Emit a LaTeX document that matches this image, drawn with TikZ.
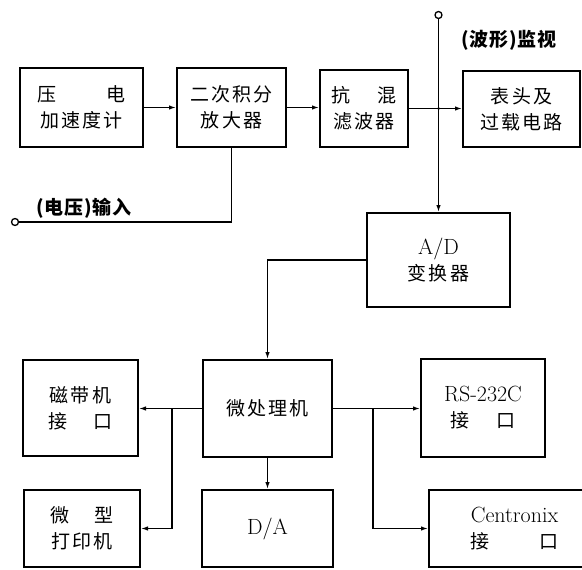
\documentclass[tikz,border=0pt]{standalone}
\usepackage{fontspec}
\usetikzlibrary{arrows.meta}
\newfontfamily\cjk[LetterSpace=12]{Noto Sans CJK SC}
\newfontfamily\cjklab[LetterSpace=4]{Noto Sans CJK SC}
\newcommand\latfont{\rmfamily\addfontfeature{LetterSpace=10}\fontsize{22}{27}\selectfont}
\newcommand\spreadtwo[3]{\makebox[#1]{#2\hfill#3}}
\begin{document}
\begin{tikzpicture}[x=1pt,y=-1pt,
  box/.style={draw, line width=2pt, inner sep=0pt, align=center,
    font=\cjk\fontsize{19}{26}\selectfont},
  conn/.style={line width=1.3pt},
  arr/.style={conn, -{Latex[length=7pt,width=4.5pt]}},
  term/.style={circle, draw, line width=1.3pt, minimum size=7pt, inner sep=0pt},
  lab/.style={font=\cjklab\bfseries\fontsize{19}{22}\selectfont, inner sep=0pt},
  dot/.style={circle, fill, minimum size=3pt, inner sep=0pt}
]
\useasboundingbox (0,0) rectangle (582,570);

% top row
\node[box, minimum width=123pt, minimum height=79pt] (acc) at (81.5,107.5)
  {\spreadtwo{88pt}{压}{电}\\加速度计};
\node[box, minimum width=109pt, minimum height=79pt] (int) at (231.5,107.5)
  {二次积分\\放大器};
\node[box, minimum width=88pt, minimum height=77pt] (filt) at (364,108.5)
  {\spreadtwo{66pt}{抗}{混}\\滤波器};
\node[box, minimum width=117pt, minimum height=76pt] (meter) at (521.5,109)
  {表头及\\过载电路};

% A/D
\node[box, minimum width=143pt, minimum height=94pt] (ad) at (438.5,260)
  {{\latfont A/D}\\变换器};

% middle row
\node[box, minimum width=115pt, minimum height=96pt] (tape) at (80.5,408)
  {磁带机\\\spreadtwo{64pt}{接}{口}};
\node[box, minimum width=129pt, minimum height=97pt] (mcu) at (267.5,408.5)
  {微处理机};
\node[box, minimum width=124pt, minimum height=98pt] (rs) at (483,408)
  {{\latfont RS-232C}\\\spreadtwo{66pt}{接}{口}};

% bottom row
\node[box, minimum width=116pt, minimum height=77pt] (prn) at (82,528.5)
  {\spreadtwo{64pt}{微}{型}\\打印机};
\node[box, minimum width=131pt, minimum height=77pt] (da) at (267.5,528.5)
  {\latfont D/A};
\node[box, minimum width=171pt, minimum height=77pt] (cen) at (514.5,528.5)
  {{\latfont Centronix}\\\spreadtwo{88pt}{接}{口}};

% terminals and labels
\node[term] (mon) at (438.5,15) {};
\node[lab] (monlab) at (509,40) {(波形)监视};
\node[term] (inp) at (15,222) {};
\node[lab] (inplab) at (84,208) {(电压)输入};

% connectors
\draw[arr] (acc.east) -- (int.west);
\draw[arr] (int.east) -- (int.east -| filt.west);
\coordinate (j1) at (filt.east -| ad.north);
\draw[arr] (filt.east) -- (filt.east -| meter.west);
\node[dot] (j1dot) at (j1) {};
\draw[conn] (mon.south) -- (j1);
\draw[arr] (j1) -- (ad.north);

\coordinate (c1) at (int.south |- inp.east);
\draw[conn] (int.south) -- (c1) -- (inp.east);

\draw[arr] (ad.west) -| (mcu.north);

\draw[arr] (mcu.west) -- (mcu.west -| tape.east);
\coordinate (b1) at (172,408.5);
\draw[arr] (b1) |- (prn.east);
\draw[arr] (mcu.south) -- (da.north);
\draw[arr] (mcu.east) -- (mcu.east -| rs.west);
\coordinate (b2) at (373,408.5);
\draw[arr] (b2) |- (cen.west);
\end{tikzpicture}
\end{document}
